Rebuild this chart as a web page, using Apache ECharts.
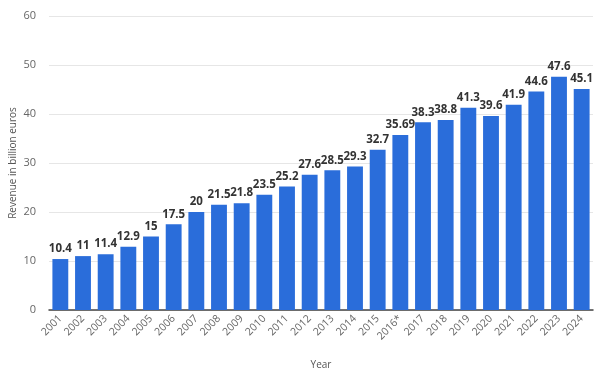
<!DOCTYPE html>
<html><head><meta charset="utf-8">
<script src="https://cdn.jsdelivr.net/npm/echarts@6/dist/echarts.min.js"></script>
<style>html,body{margin:0;padding:0;background:#fff}#c{width:600px;height:371px}</style>
</head><body><div id="c"></div>
<script>
var years = ['2001','2002','2003','2004','2005','2006','2007','2008','2009','2010','2011','2012','2013','2014','2015','2016*','2017','2018','2019','2020','2021','2022','2023','2024'];
var revenue = [10.4,11,11.4,12.9,15,17.5,20,21.5,21.8,23.5,25.2,27.6,28.5,29.3,32.7,35.69,38.3,38.8,41.3,39.6,41.9,44.6,47.6,45.1];
var yTicks = [0,10,20,30,40,50,60];
var chart = echarts.init(document.getElementById('c'));
chart.setOption({
  animation:false,
  grid:{left:49,right:7,top:16,bottom:61,containLabel:false,outerBoundsMode:'none'},
  xAxis:{type:'category',data:years,name:'Year',nameLocation:'middle',nameGap:50,nameMoveOverlap:false,
    nameTextStyle:{color:'#555',fontSize:10,fontFamily:'Open Sans'},
    axisLine:{lineStyle:{color:'#444',width:1.5}},axisTick:{show:false},
    axisLabel:{rotate:45,color:'#666',fontSize:10.5,fontFamily:'Open Sans',interval:0,margin:7}},
  yAxis:{type:'value',min:yTicks[0],max:yTicks[yTicks.length-1],interval:10,
    name:'Revenue in billion euros',nameLocation:'middle',nameGap:31,nameMoveOverlap:false,
    nameTextStyle:{color:'#555',fontSize:10,fontFamily:'Open Sans'},
    axisLine:{show:false},axisTick:{show:false},
    axisLabel:{color:'#666',fontSize:11,fontFamily:'Open Sans',margin:13},
    splitLine:{lineStyle:{color:'#e6e6e6'}}},
  series:[{type:'bar',data:revenue,barCategoryGap:'30%',
    itemStyle:{color:'#2a6dda'},
    label:{show:true,position:'top',color:'#333',fontWeight:'bold',fontSize:11.5,fontFamily:'Open Sans',distance:4}}]
});
</script></body></html>
